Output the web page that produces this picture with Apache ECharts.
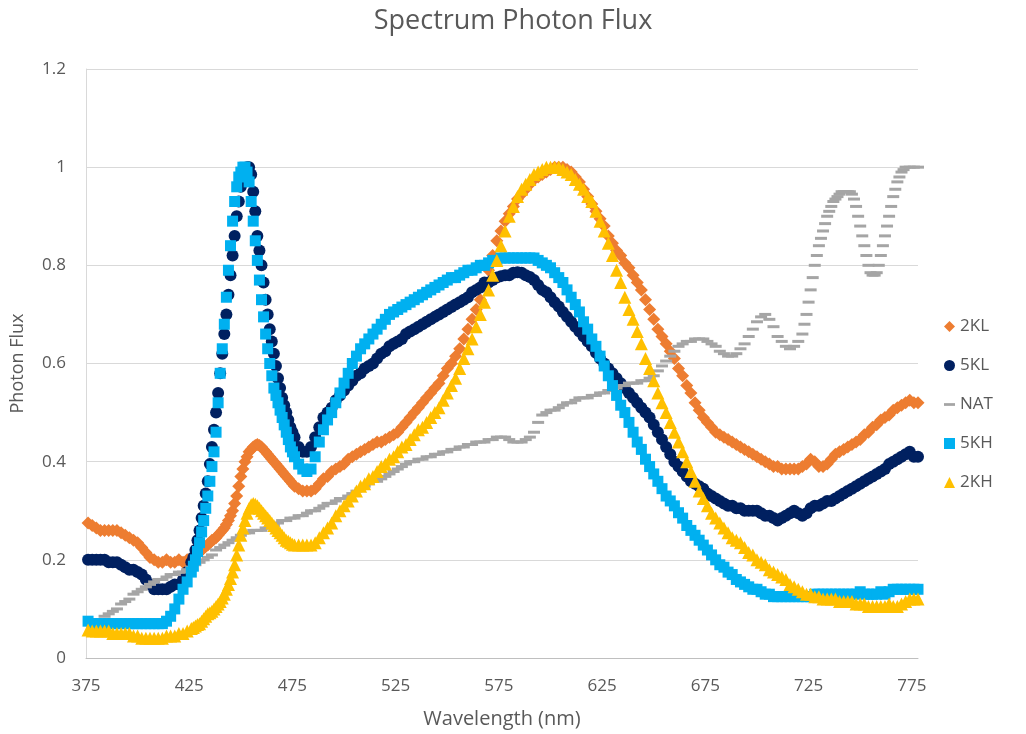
<!DOCTYPE html>
<html>
<head>
<meta charset="utf-8">
<script src="https://cdn.jsdelivr.net/npm/echarts@6/dist/echarts.min.js"></script>
<style>
html,body{margin:0;padding:0;background:#fff;}
#chart{width:1026px;height:734px;}
</style>
</head>
<body>
<div id="chart"></div>
<script>
// Wavelengths (nm): 2 nm step from 376 to 778
const wavelengths = [];
for (let w = 376; w <= 778; w += 2) wavelengths.push(w);
// Extra odd-nm readings on the steep blue-peak region and the steep NAT region
const blueFineWavelengths = [];
for (let w = 427; w <= 475; w += 2) blueFineWavelengths.push(w);
const natFineWavelengths = [];
for (let w = 723; w <= 771; w += 2) natFineWavelengths.push(w);

const seriesNames = ['2KL', '5KL', 'NAT', '5KH', '2KH'];
const xTicks = [375, 425, 475, 525, 575, 625, 675, 725, 775];
const yTicks = [0, 0.2, 0.4, 0.6, 0.8, 1, 1.2];

const flux2KL = [
  0.275,0.27,0.265,0.26,0.26,0.26,0.26,0.26,0.255,0.25,
  0.245,0.24,0.235,0.225,0.215,0.205,0.2,0.195,0.195,0.2,
  0.195,0.195,0.2,0.195,0.2,0.205,0.21,0.215,0.225,0.23,
  0.24,0.245,0.255,0.265,0.28,0.3,0.33,0.37,0.4,0.42,
  0.43,0.435,0.43,0.42,0.41,0.4,0.39,0.38,0.37,0.36,
  0.35,0.345,0.34,0.34,0.34,0.345,0.355,0.365,0.37,0.38,
  0.385,0.39,0.395,0.405,0.41,0.415,0.42,0.425,0.43,0.435,
  0.44,0.44,0.445,0.45,0.455,0.46,0.47,0.48,0.49,0.5,
  0.51,0.52,0.53,0.54,0.55,0.56,0.575,0.59,0.6,0.615,
  0.63,0.65,0.67,0.69,0.71,0.73,0.76,0.79,0.82,0.85,
  0.87,0.89,0.905,0.92,0.935,0.945,0.955,0.965,0.975,0.98,
  0.985,0.99,0.995,1.0,1.0,1.0,0.995,0.99,0.98,0.97,
  0.955,0.94,0.925,0.91,0.895,0.88,0.86,0.845,0.83,0.82,
  0.805,0.795,0.78,0.765,0.75,0.73,0.71,0.69,0.67,0.655,
  0.64,0.625,0.61,0.59,0.575,0.555,0.54,0.52,0.505,0.49,
  0.48,0.47,0.46,0.455,0.45,0.445,0.44,0.435,0.43,0.425,
  0.42,0.415,0.41,0.405,0.4,0.395,0.39,0.39,0.385,0.385,
  0.385,0.385,0.385,0.39,0.395,0.405,0.4,0.39,0.39,0.395,
  0.405,0.415,0.42,0.425,0.43,0.435,0.44,0.445,0.455,0.46,
  0.47,0.475,0.485,0.49,0.495,0.505,0.51,0.515,0.52,0.525,
  0.52,0.52
];
const flux2KLFine = [
  0.207,0.212,0.22,0.227,0.235,0.242,0.25,0.26,0.272,0.29,
  0.315,0.35,0.385,0.41,0.425,0.433,0.433,0.425,0.415,0.405,
  0.395,0.385,0.375,0.365,0.355
];

const flux5KL = [
  0.2,0.2,0.2,0.2,0.2,0.195,0.195,0.195,0.19,0.185,
  0.18,0.18,0.175,0.17,0.16,0.15,0.14,0.14,0.14,0.14,
  0.145,0.15,0.15,0.16,0.175,0.195,0.22,0.26,0.31,0.36,
  0.43,0.5,0.58,0.66,0.74,0.82,0.9,0.96,0.99,1.0,
  0.95,0.86,0.8,0.73,0.67,0.62,0.57,0.53,0.5,0.47,
  0.45,0.43,0.42,0.42,0.43,0.45,0.47,0.49,0.5,0.51,
  0.525,0.535,0.545,0.555,0.565,0.575,0.58,0.59,0.595,0.6,
  0.61,0.62,0.625,0.635,0.64,0.645,0.65,0.66,0.665,0.67,
  0.675,0.68,0.685,0.69,0.695,0.7,0.705,0.71,0.715,0.72,
  0.725,0.73,0.735,0.745,0.75,0.755,0.765,0.765,0.77,0.775,
  0.778,0.78,0.78,0.785,0.786,0.785,0.78,0.776,0.77,0.76,
  0.75,0.745,0.735,0.725,0.716,0.705,0.695,0.685,0.675,0.665,
  0.655,0.645,0.635,0.622,0.61,0.6,0.59,0.58,0.57,0.56,
  0.55,0.54,0.53,0.52,0.51,0.5,0.49,0.475,0.46,0.445,
  0.43,0.415,0.4,0.39,0.38,0.37,0.36,0.355,0.35,0.345,
  0.335,0.33,0.325,0.32,0.315,0.31,0.31,0.305,0.305,0.3,
  0.3,0.3,0.3,0.295,0.29,0.29,0.285,0.28,0.285,0.29,
  0.295,0.3,0.295,0.29,0.295,0.305,0.31,0.31,0.315,0.32,
  0.32,0.325,0.33,0.335,0.34,0.345,0.35,0.355,0.36,0.365,
  0.37,0.375,0.38,0.385,0.395,0.4,0.405,0.41,0.415,0.42,
  0.41,0.41
];
const flux5KLFine = [
  0.205,0.24,0.285,0.335,0.395,0.465,0.54,0.62,0.7,0.78,
  0.86,0.93,0.98,1.0,0.985,0.91,0.83,0.765,0.7,0.645,
  0.595,0.55,0.515,0.485,0.46
];

const fluxNAT = [
  null,null,null,null,0.085,0.09,0.095,0.1,0.11,0.115,
  0.12,0.13,0.135,0.14,0.145,0.15,0.155,0.16,0.16,0.165,
  0.17,0.17,0.175,0.175,0.18,0.185,0.19,0.195,0.2,0.205,
  0.21,0.22,0.225,0.23,0.235,0.24,0.245,0.25,0.255,0.255,
  0.26,0.26,0.26,0.265,0.265,0.27,0.275,0.28,0.28,0.285,
  0.285,0.29,0.29,0.295,0.3,0.3,0.305,0.31,0.315,0.315,
  0.32,0.325,0.325,0.33,0.335,0.34,0.345,0.35,0.355,0.36,
  0.36,0.365,0.37,0.375,0.38,0.385,0.39,0.395,0.4,0.4,
  0.405,0.405,0.41,0.41,0.415,0.415,0.42,0.42,0.425,0.425,
  0.43,0.43,0.435,0.435,0.44,0.44,0.44,0.445,0.445,0.45,
  0.45,0.45,0.445,0.44,0.44,0.44,0.445,0.45,0.46,0.48,
  0.495,0.5,0.505,0.505,0.51,0.515,0.52,0.52,0.525,0.53,
  0.53,0.53,0.535,0.535,0.54,0.54,0.545,0.545,0.55,0.555,
  0.555,0.56,0.56,0.56,0.565,0.565,0.57,0.575,0.585,0.595,
  0.605,0.615,0.625,0.635,0.64,0.645,0.645,0.65,0.65,0.65,
  0.645,0.64,0.635,0.625,0.62,0.615,0.615,0.62,0.63,0.64,
  0.655,0.67,0.685,0.695,0.7,0.69,0.675,0.655,0.645,0.635,
  0.63,0.635,0.645,0.66,0.7,0.75,0.8,0.84,0.87,0.9,
  0.92,0.935,0.945,0.95,0.95,0.945,0.92,0.88,0.84,0.8,
  0.78,0.785,0.82,0.86,0.9,0.94,0.97,0.99,1.0,1.0,
  1.0,1.0
];
const fluxNATFine = [
  0.68,0.725,0.775,0.82,0.855,0.885,0.91,0.93,0.94,0.95,
  0.95,0.95,0.935,0.9,0.86,0.82,0.785,0.78,0.8,0.84,
  0.88,0.92,0.955,0.98,0.995
];

const flux5KH = [
  0.075,0.07,0.07,0.07,0.07,0.07,0.07,0.07,0.07,0.07,
  0.07,0.07,0.07,0.07,0.07,0.07,0.07,0.07,0.07,0.075,
  0.085,0.1,0.12,0.14,0.155,0.175,0.2,0.235,0.28,0.33,
  0.39,0.46,0.58,0.68,0.79,0.89,0.96,0.99,1.0,0.97,
  0.89,0.81,0.73,0.66,0.6,0.55,0.52,0.49,0.46,0.43,
  0.41,0.395,0.385,0.38,0.385,0.41,0.44,0.465,0.485,0.5,
  0.52,0.54,0.56,0.58,0.6,0.615,0.63,0.64,0.65,0.66,
  0.67,0.68,0.69,0.7,0.705,0.71,0.715,0.72,0.725,0.73,
  0.735,0.74,0.745,0.75,0.755,0.76,0.765,0.77,0.775,0.775,
  0.78,0.785,0.79,0.79,0.795,0.8,0.8,0.805,0.81,0.81,
  0.815,0.815,0.815,0.815,0.815,0.815,0.815,0.815,0.815,0.81,
  0.805,0.8,0.795,0.785,0.775,0.765,0.75,0.735,0.72,0.705,
  0.685,0.67,0.65,0.635,0.615,0.595,0.575,0.555,0.535,0.515,
  0.5,0.48,0.46,0.44,0.425,0.405,0.39,0.375,0.36,0.345,
  0.33,0.32,0.31,0.296,0.285,0.27,0.26,0.25,0.24,0.23,
  0.22,0.21,0.2,0.19,0.185,0.175,0.17,0.16,0.155,0.15,
  0.145,0.14,0.14,0.135,0.13,0.13,0.125,0.125,0.125,0.125,
  0.125,0.125,0.125,0.125,0.125,0.125,0.13,0.13,0.13,0.13,
  0.13,0.13,0.13,0.13,0.13,0.13,0.13,0.135,0.13,0.13,
  0.13,0.13,0.135,0.13,0.135,0.14,0.14,0.14,0.14,0.14,
  0.14,0.14
];
const flux5KHFine = [
  0.187,0.217,0.257,0.305,0.36,0.42,0.52,0.63,0.735,0.84,
  0.93,0.98,1.0,0.99,0.93,0.85,0.77,0.695,0.63,0.575,
  0.535,0.505,0.475,0.445,0.42
];

const flux2KH = [
  0.057,0.055,0.055,0.055,0.055,0.055,0.05,0.05,0.05,0.05,
  0.05,0.045,0.045,0.04,0.04,0.04,0.04,0.04,0.04,0.045,
  0.045,0.045,0.05,0.05,0.055,0.06,0.065,0.07,0.08,0.09,
  0.095,0.105,0.115,0.13,0.15,0.175,0.21,0.25,0.28,0.305,
  0.315,0.31,0.3,0.29,0.28,0.27,0.26,0.25,0.24,0.235,
  0.23,0.23,0.23,0.23,0.23,0.235,0.245,0.255,0.265,0.275,
  0.29,0.3,0.31,0.32,0.33,0.34,0.35,0.355,0.365,0.37,
  0.38,0.39,0.395,0.405,0.41,0.42,0.43,0.435,0.445,0.455,
  0.465,0.47,0.48,0.49,0.5,0.51,0.525,0.54,0.555,0.57,
  0.59,0.61,0.63,0.65,0.675,0.7,0.725,0.75,0.78,0.81,
  0.84,0.87,0.9,0.92,0.94,0.955,0.965,0.975,0.985,0.99,
  0.995,1.0,1.0,1.0,1.0,0.995,0.99,0.985,0.975,0.965,
  0.955,0.94,0.93,0.91,0.89,0.87,0.845,0.82,0.79,0.765,
  0.735,0.71,0.69,0.665,0.64,0.61,0.59,0.565,0.54,0.52,
  0.5,0.48,0.46,0.44,0.42,0.4,0.38,0.36,0.34,0.325,
  0.31,0.295,0.285,0.275,0.265,0.255,0.245,0.24,0.235,0.225,
  0.215,0.21,0.2,0.195,0.19,0.18,0.175,0.17,0.165,0.16,
  0.15,0.145,0.14,0.135,0.13,0.13,0.125,0.125,0.12,0.12,
  0.12,0.12,0.115,0.115,0.115,0.115,0.11,0.11,0.11,0.105,
  0.105,0.105,0.105,0.105,0.11,0.105,0.105,0.11,0.115,0.12,
  0.12,0.12
];
const flux2KHFine = [
  0.062,0.068,0.075,0.085,0.092,0.1,0.11,0.122,0.14,0.162,
  0.19,0.23,0.265,0.295,0.312,0.313,0.305,0.295,0.285,0.275,
  0.265,0.255,0.245,0.238,0.232
];

const seriesValues = [flux2KL, flux5KL, fluxNAT, flux5KH, flux2KH];
const fineValues = [flux2KLFine, flux5KLFine, fluxNATFine, flux5KHFine, flux2KHFine];
const fineGrids = [blueFineWavelengths, blueFineWavelengths, natFineWavelengths, blueFineWavelengths, blueFineWavelengths];
const colors = ['#ED7D31', '#002060', '#A5A5A5', '#00B0F0', '#FFC000'];
const symbols = ['diamond', 'circle', 'rect', 'rect', 'triangle'];
const symbolSizes = [13, 12, [12, 3], 11, 13];
const legendIcons = ['diamond', 'circle', 'path://M0,0L12,0L12,3L0,3Z', 'rect', 'triangle'];

function pairs(ws, vals) {
  const out = [];
  for (let i = 0; i < ws.length; i++) {
    if (vals[i] !== null && vals[i] !== undefined) out.push([ws[i], vals[i]]);
  }
  return out;
}

const FONT = '"Open Sans", "Liberation Sans", sans-serif';
const TXT = '#595959';

const chart = echarts.init(document.getElementById('chart'), null, {renderer: 'canvas'});
chart.setOption({
  animation: false,
  backgroundColor: '#fff',
  title: {
    text: 'Spectrum Photon Flux',
    left: 'center',
    top: 3,
    textStyle: {fontFamily: FONT, fontSize: 27, fontWeight: 'normal', color: TXT}
  },
  legend: {
    orient: 'vertical',
    left: 939,
    top: 313,
    itemWidth: 11,
    itemHeight: 11,
    itemGap: 22,
    textStyle: {fontFamily: FONT, fontSize: 17, color: TXT},
    data: seriesNames.map((n, i) => ({name: n, icon: legendIcons[i]}))
  },
  grid: {left: 86, right: 108, top: 69, bottom: 76, containLabel: false},
  xAxis: {
    type: 'value',
    min: 375,
    max: 778,
    interval: 50,
    name: 'Wavelength (nm)',
    nameLocation: 'middle',
    nameGap: 51,
    nameTextStyle: {fontFamily: FONT, fontSize: 20, color: TXT},
    axisLine: {show: true, lineStyle: {color: '#BFBFBF', width: 1}},
    axisTick: {show: false},
    splitLine: {show: false},
    axisLabel: {
      fontFamily: FONT, fontSize: 17, color: TXT, margin: 20,
      showMaxLabel: false,
      formatter: v => (xTicks.indexOf(v) >= 0 ? String(v) : '')
    }
  },
  yAxis: {
    type: 'value',
    min: 0,
    max: 1.2,
    interval: 0.2,
    name: 'Photon Flux',
    nameLocation: 'middle',
    nameGap: 59,
    nameTextStyle: {fontFamily: FONT, fontSize: 18, color: TXT},
    axisLine: {show: true, lineStyle: {color: '#D9D9D9', width: 1}},
    axisTick: {show: false},
    splitLine: {show: true, lineStyle: {color: '#D9D9D9', width: 1}},
    axisLabel: {
      fontFamily: FONT, fontSize: 17, color: TXT, margin: 20,
      formatter: v => {
        const t = yTicks.find(t => Math.abs(t - v) < 1e-9);
        return t === undefined ? '' : String(t);
      }
    }
  },
  series: seriesNames.map((n, i) => ({
    name: n,
    type: 'scatter',
    symbol: symbols[i],
    symbolSize: symbolSizes[i],
    itemStyle: {color: colors[i], opacity: 1},
    emphasis: {disabled: true},
    data: pairs(wavelengths, seriesValues[i]).concat(pairs(fineGrids[i], fineValues[i]))
  }))
});
</script>
</body>
</html>
